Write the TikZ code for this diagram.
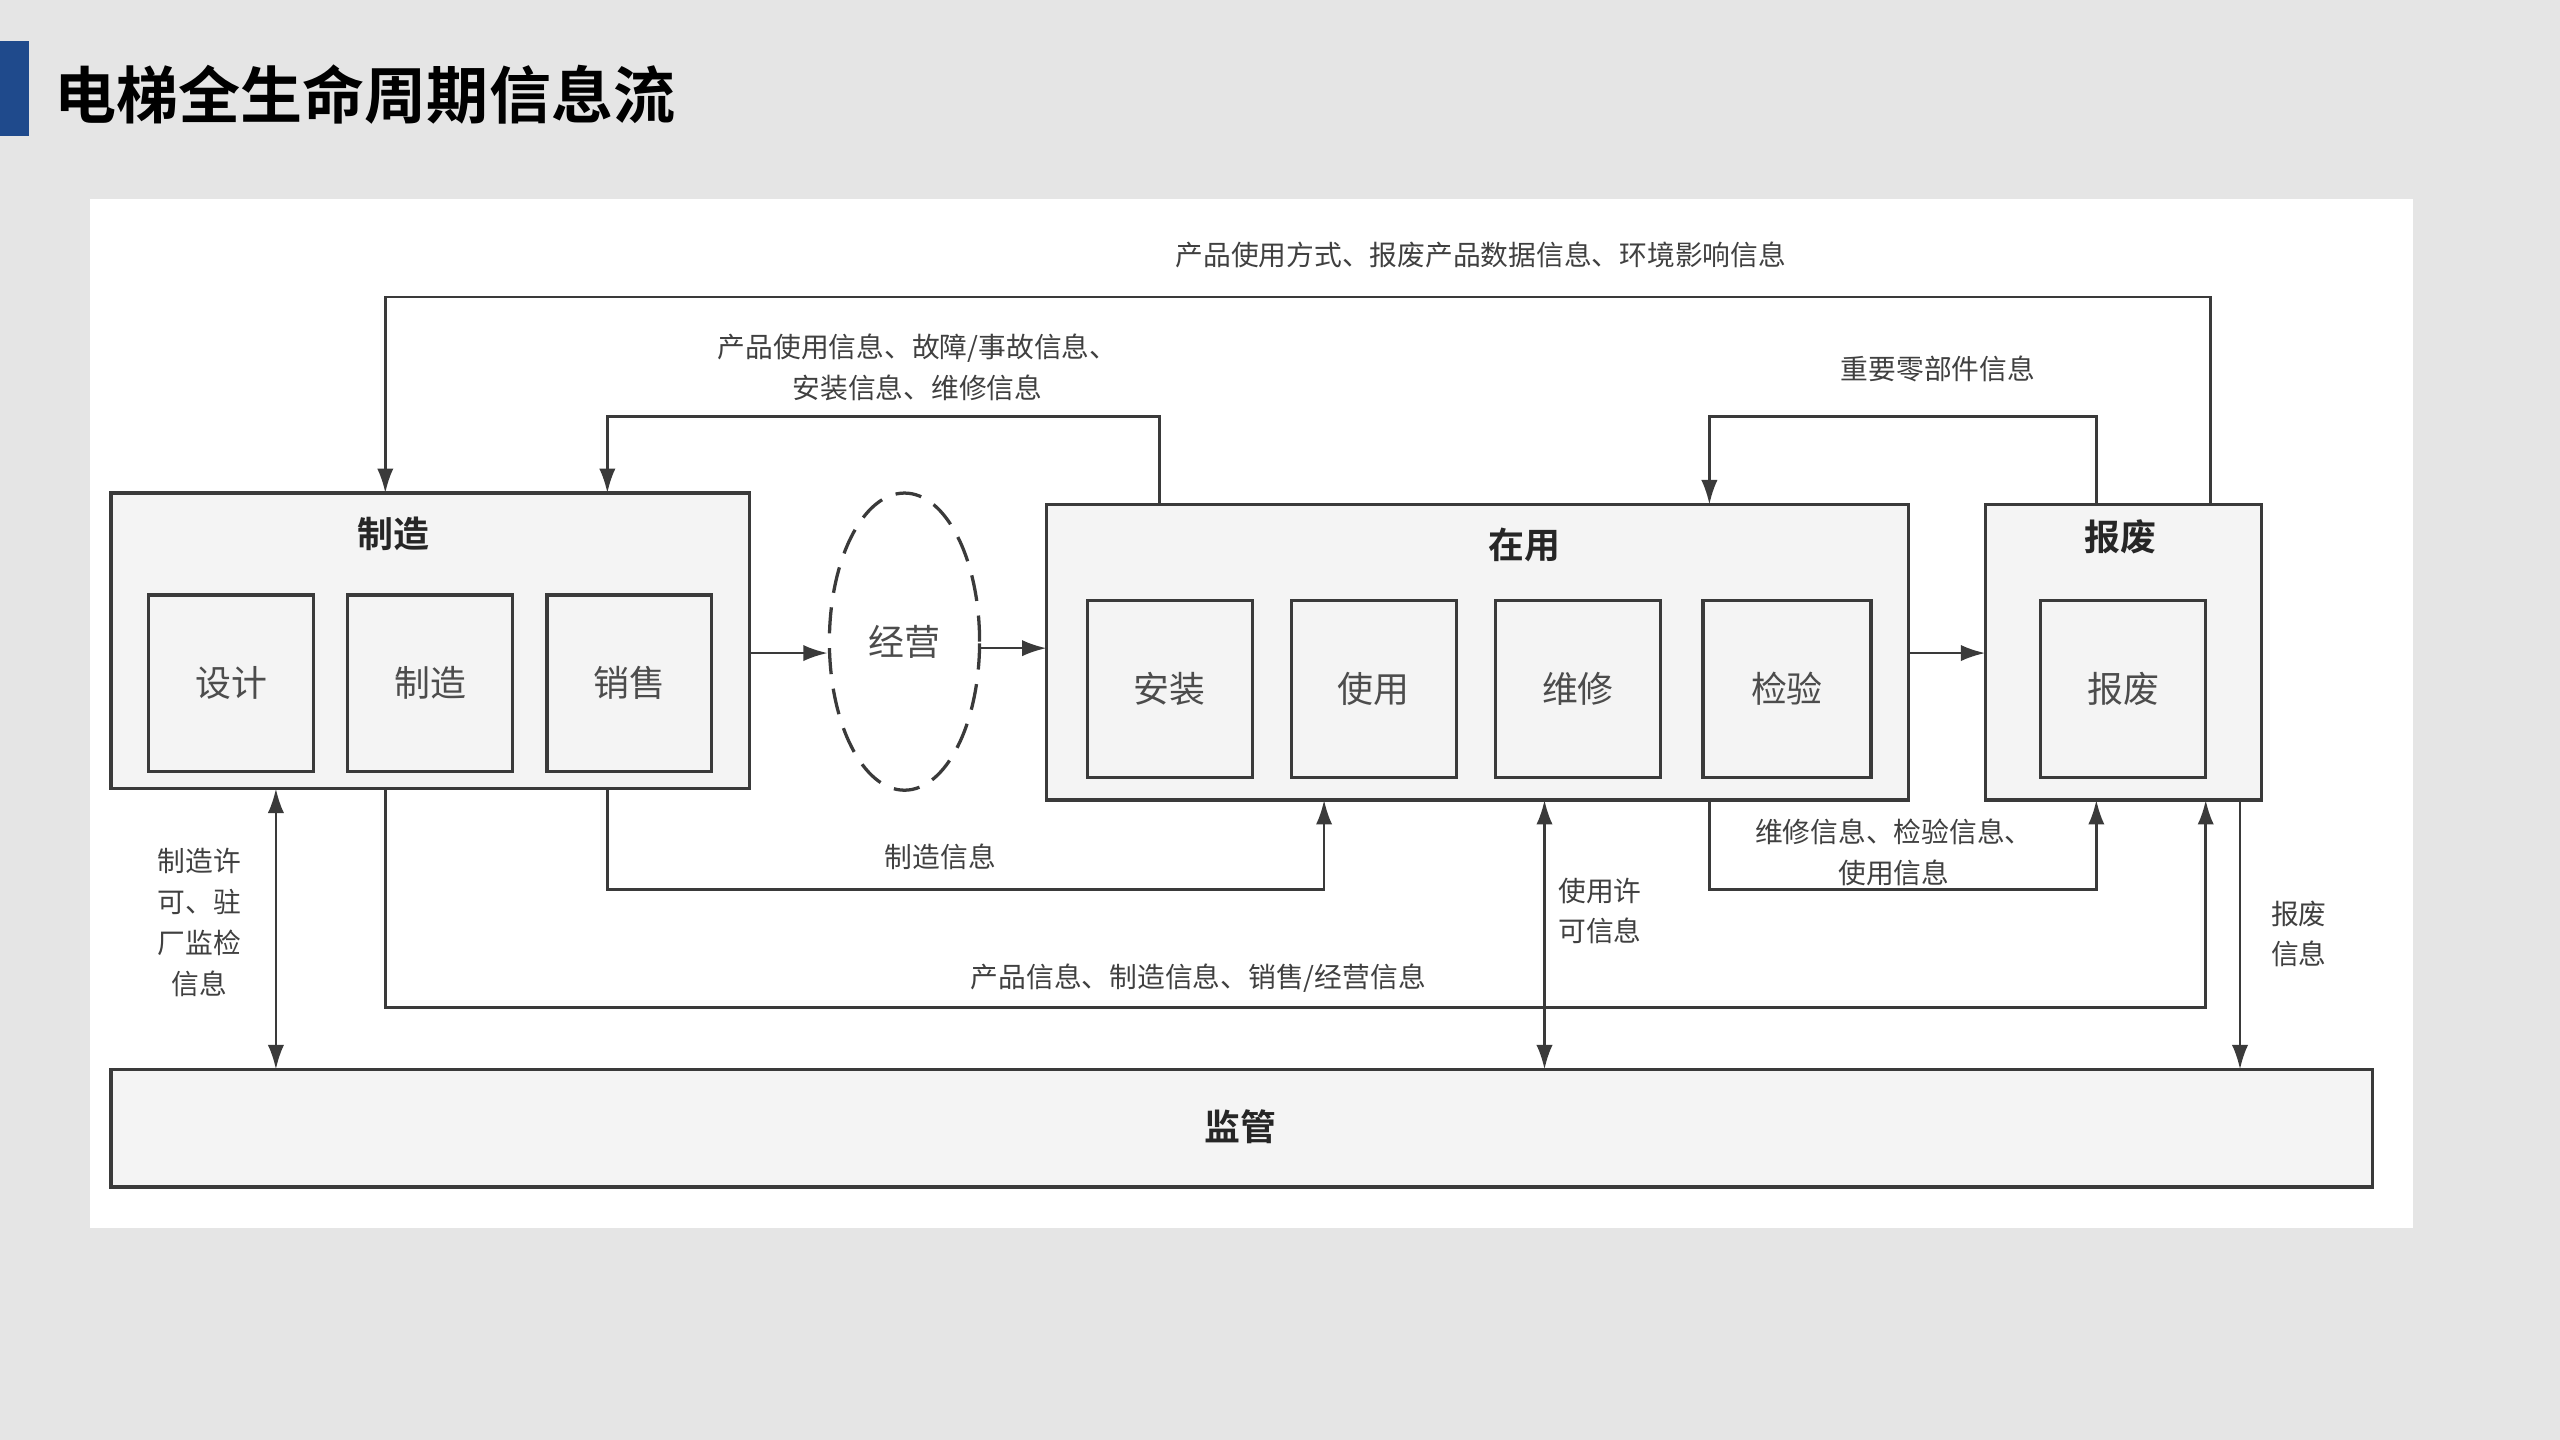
\documentclass[tikz,border=0pt]{standalone}
\usepackage{fontspec}
\setmainfont{Noto Sans CJK SC}
\newfontfamily\cjkb{Noto Sans CJK SC Bold}
\usetikzlibrary{arrows.meta,shapes.geometric}
\definecolor{ln}{HTML}{3A3A3A}
\definecolor{bx}{HTML}{F4F4F4}
\definecolor{bar}{HTML}{1F4A8C}
\tikzset{
  big/.style={draw=ln,line width=2pt,fill=bx},
  sub/.style={draw=ln,line width=2pt,fill=bx,minimum width=101pt,minimum height=108pt,font=\fontsize{22}{26}\selectfont,text=black!70},
  ttl/.style={font=\cjkb\fontsize{22}{26}\selectfont,text=black!85},
  lbl/.style={font=\fontsize{17}{25}\selectfont,text=black!75,align=center},
  con/.style={draw=ln,line width=1.6pt,-{Latex[length=15pt,width=10pt]}},
  dcon/.style={draw=ln,line width=1.6pt,{Latex[length=15pt,width=10pt]}-{Latex[length=15pt,width=10pt]}}
}
\begin{document}
\begin{tikzpicture}[x=1pt,y=-1pt]
\fill[black!10] (0,0) rectangle (1568,882);
\useasboundingbox (0,0) rectangle (1568,882);
\fill[bar] (0,25) rectangle (18,83);
\node[anchor=west,font=\cjkb\fontsize{38}{42}\selectfont] (title) at (30,58) {电梯全生命周期信息流};
\fill[white] (55,122) rectangle (1478,752);
% boxes
\node[big,minimum width=391pt,minimum height=181pt] (mf) at (263.5,392.5) {};
\node[ttl] (mft) at (241,327) {制造};
\node[sub] (sj) at (141.5,418.5) {设计};
\node[sub] (zz) at (263.5,418.5) {制造};
\node[sub] (xs) at (385.5,418.5) {销售};
\node[draw=ln,line width=2pt,dash pattern=on 16pt off 9pt,ellipse,inner sep=0pt,minimum width=92pt,minimum height=182pt,font=\fontsize{22}{26}\selectfont,text=black!70] (jy) at (554,393) {经营};
\node[big,minimum width=528pt,minimum height=181pt] (zy) at (905,399.5) {};
\node[ttl] (zyt) at (934,334) {在用};
\node[sub] (az) at (716.5,422) {安装};
\node[sub] (sy) at (841.5,422) {使用};
\node[sub] (wx) at (966.5,422) {维修};
\node[sub,minimum width=103pt] (jyan) at (1094.5,422) {检验};
\node[big,minimum width=169pt,minimum height=181pt] (bf) at (1300.5,399.5) {};
\node[ttl] (bft) at (1299,329) {报废};
\node[sub] (bfs) at (1300.5,422) {报废};
\node[big,minimum width=1385pt,minimum height=72pt] (jg) at (760.5,691) {};
\node[ttl] (jgt) at (760,690) {监管};
% horizontal arrows
\draw[con] (459,400) -- (jy.west |- 0,400);
\draw[con] (jy.east |- 0,397) -- (641,397);
\draw[con] (1169,400) -- (1216,400);
% top lines
\draw[con] (1354,309) -- (1354,182) -- (236,182) -- (236,302);
\node[lbl] (l1) at (907,156) {产品使用方式、报废产品数据信息、环境影响信息};
\draw[con] (710,309) -- (710,255) -- (372,255) -- (372,302);
\node[lbl] (l2) at (562,225) {产品使用信息、故障/事故信息、\\安装信息、维修信息};
\draw[con] (1284,309) -- (1284,255) -- (1047,255) -- (1047,309);
\node[lbl] (l3) at (1187,226) {重要零部件信息};
% bottom lines
\draw[con] (372,483) -- (372,545) -- (811,545) -- (811,490);
\node[lbl] (l4) at (576,525) {制造信息};
\draw[con] (1047,490) -- (1047,545) -- (1284,545) -- (1284,490);
\node[lbl] (l5) at (1160,522) {维修信息、检验信息、\\使用信息};
\draw[con] (236,483) -- (236,617) -- (1351,617) -- (1351,490);
\node[lbl] (l6) at (734,599) {产品信息、制造信息、销售/经营信息};
\draw[dcon] (169,483) -- (169,655);
\node[lbl] (l7) at (122,565) {制造许\\可、驻\\厂监检\\信息};
\draw[dcon] (946,490) -- (946,655);
\node[lbl,align=left] (l8) at (980,558) {使用许\\可信息};
\draw[con] (1372,490) -- (1372,655);
\node[lbl,align=left] (l9) at (1408,572) {报废\\信息};
\end{tikzpicture}
\end{document}
